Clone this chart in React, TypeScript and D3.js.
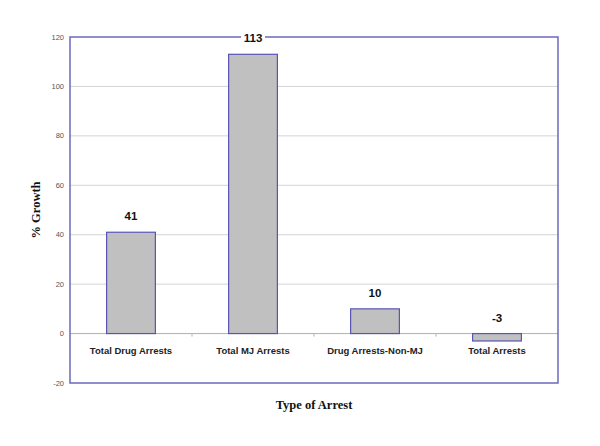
import { useEffect, useRef } from 'react'
import * as d3 from 'd3'

const categories = ['Total Drug Arrests', 'Total MJ Arrests', 'Drug Arrests-Non-MJ', 'Total Arrests']
const growth = [41, 113, 10, -3]
const yTicks = [-20, 0, 20, 40, 60, 80, 100, 120]

export default function App() {
  const svgRef = useRef<SVGSVGElement>(null)

  useEffect(() => {
    if (!svgRef.current) return
    const width = 600
    const height = 446
    const margin = { top: 37, right: 42, bottom: 63, left: 70 }

    const root = d3.select(svgRef.current)
    root.selectAll('*').remove()
    root.attr('width', width).attr('height', height)

    root.append('rect').attr('width', width).attr('height', height).attr('fill', '#fff')

    const innerWidth = width - margin.left - margin.right
    const innerHeight = height - margin.top - margin.bottom

    const svg = root.append('g').attr('transform', `translate(${margin.left},${margin.top})`)

    const x = d3.scaleBand<string>().domain(categories).range([0, innerWidth]).padding(0)
    const y = d3.scaleLinear().domain([-20, 120]).range([innerHeight, 0])
    const barW = x.bandwidth() * 0.4

    // grid lines
    svg.append('g')
      .selectAll('line')
      .data(yTicks.filter(t => t !== 0 && t !== -20 && t !== 120))
      .enter()
      .append('line')
      .attr('x1', 0)
      .attr('x2', innerWidth)
      .attr('y1', d => y(d))
      .attr('y2', d => y(d))
      .attr('stroke', '#d4d4d4')
      .attr('stroke-width', 1)

    // zero line
    svg.append('line')
      .attr('x1', 0)
      .attr('x2', innerWidth)
      .attr('y1', y(0))
      .attr('y2', y(0))
      .attr('stroke', '#b0b0b0')
      .attr('stroke-width', 1)

    // category separators on the zero line
    svg.append('g')
      .selectAll('line')
      .data(categories.slice(1))
      .enter()
      .append('line')
      .attr('x1', d => x(d)!)
      .attr('x2', d => x(d)!)
      .attr('y1', y(0))
      .attr('y2', y(0) + 3)
      .attr('stroke', '#b0b0b0')

    // bars
    svg.append('g')
      .selectAll('rect')
      .data(growth)
      .enter()
      .append('rect')
      .attr('x', (d, i) => x(categories[i])! + (x.bandwidth() - barW) / 2)
      .attr('y', d => y(Math.max(d, 0)))
      .attr('width', barW)
      .attr('height', d => Math.abs(y(d) - y(0)))
      .attr('fill', '#c0c0c0')
      .attr('stroke', '#5a55b5')
      .attr('stroke-width', 1.2)

    // plot border
    svg.append('rect')
      .attr('x', 0)
      .attr('y', 0)
      .attr('width', innerWidth)
      .attr('height', innerHeight)
      .attr('fill', 'none')
      .attr('stroke', '#6b68bf')
      .attr('stroke-width', 1.5)

    // y tick labels
    svg.append('g')
      .selectAll('text')
      .data(yTicks)
      .enter()
      .append('text')
      .attr('x', -6)
      .attr('y', d => y(d))
      .attr('dy', '0.35em')
      .attr('text-anchor', 'end')
      .attr('font-family', 'Arial, Liberation Sans, sans-serif')
      .attr('font-size', 7.5)
      .attr('fill', '#555')
      .text(d => d)

    // category labels
    svg.append('g')
      .selectAll('text')
      .data(categories)
      .enter()
      .append('text')
      .attr('x', d => x(d)! + x.bandwidth() / 2)
      .attr('y', y(0) + 20)
      .attr('text-anchor', 'middle')
      .attr('font-family', 'Arial, Liberation Sans, sans-serif')
      .attr('font-size', 9.5)
      .attr('font-weight', 'bold')
      .attr('fill', '#222')
      .text(d => d)

    // value labels
    const labels = svg.append('g')
      .selectAll('g')
      .data(growth)
      .enter()
      .append('g')
      .attr('transform', (d, i) =>
        `translate(${x(categories[i])! + x.bandwidth() / 2},${y(Math.max(d, 0)) - 12})`)

    labels.append('rect')
      .attr('x', -12)
      .attr('y', -10)
      .attr('width', 24)
      .attr('height', 13)
      .attr('fill', '#fff')

    labels.append('text')
      .attr('text-anchor', 'middle')
      .attr('font-family', 'Arial, Liberation Sans, sans-serif')
      .attr('font-size', 11.5)
      .attr('font-weight', 'bold')
      .attr('fill', '#111')
      .text(d => d)

    // axis titles
    root.append('text')
      .attr('transform', `translate(40,${margin.top + innerHeight / 2}) rotate(-90)`)
      .attr('text-anchor', 'middle')
      .attr('font-family', 'Times New Roman, Liberation Serif, serif')
      .attr('font-size', 12.5)
      .attr('font-weight', 'bold')
      .attr('fill', '#111')
      .text('% Growth')

    root.append('text')
      .attr('x', 314)
      .attr('y', 409)
      .attr('text-anchor', 'middle')
      .attr('font-family', 'Times New Roman, Liberation Serif, serif')
      .attr('font-size', 12.5)
      .attr('font-weight', 'bold')
      .attr('fill', '#111')
      .text('Type of Arrest')
  }, [])

  return (
    <svg ref={svgRef} style={{ position: 'absolute', top: 0, left: 0, display: 'block' }}></svg>
  )
}
